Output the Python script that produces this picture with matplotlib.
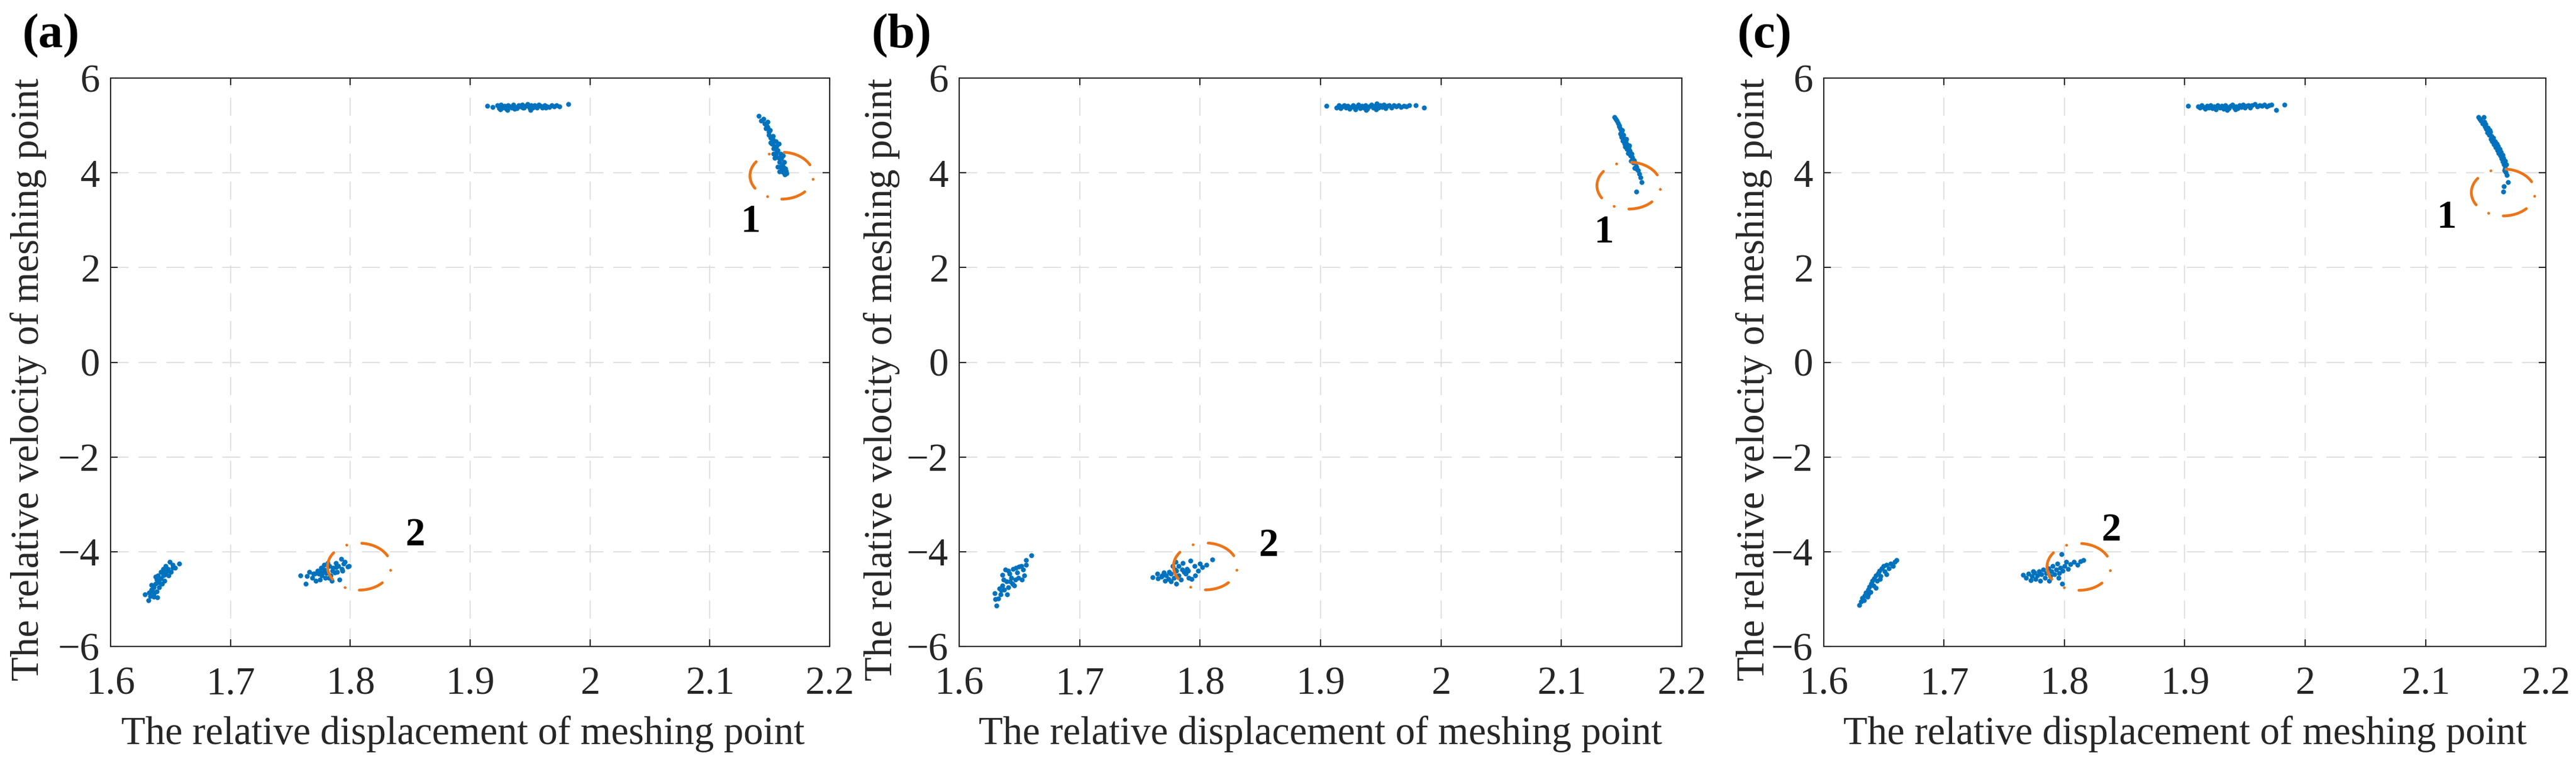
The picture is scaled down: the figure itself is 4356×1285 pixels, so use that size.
import matplotlib
matplotlib.use('Agg')
import matplotlib.pyplot as plt
from matplotlib.patches import Ellipse

# ---------------- data ----------------
x_ticks = [1.6, 1.7, 1.8, 1.9, 2.0, 2.1, 2.2]
x_ticklabels = ['1.6', '1.7', '1.8', '1.9', '2', '2.1', '2.2']
y_ticks = [-6, -4, -2, 0, 2, 4, 6]
y_ticklabels = ['\u22126', '\u22124', '\u22122', '0', '2', '4', '6']
panel_letters = ['(a)', '(b)', '(c)']
xlabel_text = 'The relative displacement of meshing point'
ylabel_text = 'The relative velocity of meshing point'

# panel (a) clusters (displacement, velocity)
pa_left = [(1.6285,-4.90),(1.6318,-5.026),(1.6329,-4.942),(1.6351,-4.839),(1.6362,-4.755),(1.6340,-4.797),
           (1.6373,-4.672),(1.6384,-4.589),(1.6395,-4.505),(1.6417,-4.423),(1.6439,-4.360),(1.6461,-4.298),
           (1.6494,-4.214),(1.6516,-4.277),(1.6571,-4.256),(1.6538,-4.339),(1.6505,-4.423),(1.6483,-4.505),
           (1.6450,-4.610),(1.6428,-4.672),(1.6406,-4.755),(1.6384,-4.839),(1.6388,-4.964),(1.6362,-4.889),
           (1.6406,-4.651),(1.6439,-4.505),(1.6472,-4.402),(1.6516,-4.339),(1.6373,-4.527),(1.6450,-4.443),
           (1.6340,-4.70),(1.6420,-4.56),(1.6460,-4.48),(1.6400,-4.62),(1.6480,-4.36),(1.6360,-4.95),(1.6320,-4.86)]
pa_mid = [(1.7582,-4.505),(1.7626,-4.672),(1.7659,-4.423),(1.7681,-4.548),(1.7714,-4.610),(1.7736,-4.464),
          (1.7758,-4.339),(1.7780,-4.277),(1.7802,-4.423),(1.7835,-4.505),(1.7857,-4.339),(1.7879,-4.235),
          (1.7901,-4.298),(1.7923,-4.152),(1.7945,-4.256),(1.7978,-4.318),(1.7989,-4.298),(1.7912,-4.589),
          (1.7868,-4.443),(1.7824,-4.298),(1.7791,-4.548),(1.7747,-4.589),(1.7692,-4.464),(1.7934,-4.402),
          (1.7956,-4.214),(1.7890,-4.423),(1.7846,-4.610),(1.7769,-4.443),(1.7725,-4.402),(1.7813,-4.235),
          (1.7760,-4.50),(1.7800,-4.45),(1.7850,-4.40),(1.7700,-4.47),(1.7640,-4.52),(1.7880,-4.33),
          (1.7930,-4.37),(1.7820,-4.55),(1.7740,-4.42),(1.7780,-4.38)]
pa_top = [(1.9143,5.41),(1.9189,5.39),(1.9225,5.42),(1.9240,5.36),(1.9255,5.44),(1.9270,5.38),(1.9285,5.41),
          (1.9300,5.35),(1.9315,5.43),(1.9330,5.40),(1.9345,5.37),(1.9360,5.44),(1.9375,5.39),(1.9390,5.36),
          (1.9405,5.42),(1.9420,5.40),(1.9435,5.44),(1.9450,5.38),(1.9465,5.41),(1.9480,5.45),(1.9495,5.39),
          (1.9510,5.42),(1.9525,5.37),(1.9540,5.43),(1.9555,5.40),(1.9570,5.44),(1.9585,5.41),(1.9600,5.38),
          (1.9620,5.42),(1.9640,5.40),(1.9660,5.39),(1.9680,5.43),(1.9700,5.40),(1.9720,5.42),(1.9745,5.40),
          (1.9820,5.45),(1.9250,5.34),(1.9310,5.36),(1.9370,5.35),(1.9440,5.37),(1.9500,5.36),(1.9560,5.38),
          (1.9630,5.37),(1.9312,5.32),(1.9502,5.33)]
pa_right = [(2.1409,5.20),(2.1447,5.14),(2.1456,5.035),(2.1480,5.07),(2.1467,4.935),(2.1484,4.96),(2.1492,4.86),
            (2.1500,4.90),(2.1508,4.735),(2.1525,4.78),(2.1508,4.64),(2.1516,4.61),(2.1550,4.67),(2.1533,4.52),
            (2.1574,4.61),(2.1557,4.57),(2.1557,4.44),(2.1533,4.40),(2.1590,4.40),(2.1574,4.32),(2.1541,4.32),
            (2.1610,4.36),(2.1582,4.23),(2.1620,4.23),(2.1590,4.13),(2.1565,4.13),(2.1603,4.17),(2.1598,4.07),
            (2.1628,4.09),(2.1582,4.03),(2.1610,4.01),(2.1623,3.96),(2.1640,3.99),
            (2.1430,5.10),(2.1470,5.00),(2.1490,4.80),(2.1525,4.70),(2.1540,4.55),(2.1565,4.48),(2.1595,4.30),
            (2.1615,4.12),(2.1635,4.04),(2.1520,4.62),(2.1550,4.38)]

# panel (b) clusters
pb_left = [(1.6309,-5.142),(1.6298,-5.005),(1.6293,-4.872),(1.6326,-4.985),(1.6342,-4.901),(1.6334,-4.776),
           (1.6358,-4.714),(1.6375,-4.797),(1.6350,-4.818),(1.6399,-4.901),(1.6408,-4.755),(1.6391,-4.630),
           (1.6367,-4.589),(1.6358,-4.485),(1.6383,-4.373),(1.6416,-4.464),(1.6432,-4.548),(1.6440,-4.672),
           (1.6457,-4.714),(1.6465,-4.589),(1.6448,-4.360),(1.6481,-4.443),(1.6497,-4.318),(1.6514,-4.298),
           (1.6530,-4.381),(1.6539,-4.505),(1.6522,-4.589),(1.6555,-4.277),(1.6555,-4.173),(1.6599,-4.081),
           (1.6489,-4.548),(1.6424,-4.630),(1.6473,-4.339),(1.6408,-4.402)]
pb_mid = [(1.7607,-4.539),(1.7643,-4.464),(1.7651,-4.568),(1.7684,-4.505),(1.7709,-4.610),(1.7700,-4.443),
          (1.7742,-4.423),(1.7758,-4.630),(1.7774,-4.298),(1.7799,-4.214),(1.7803,-4.672),(1.7823,-4.505),
          (1.7856,-4.235),(1.7864,-4.423),(1.7905,-4.548),(1.7921,-4.193),(1.7889,-4.360),(1.7791,-4.381),
          (1.7840,-4.589),(1.7954,-4.30),(1.7985,-4.40),(1.8020,-4.33),(1.8050,-4.28),(1.8100,-4.16),
          (1.7960,-4.50),(1.7930,-4.58),(1.8000,-4.25),(1.7720,-4.50),(1.7760,-4.47),(1.7800,-4.40),
          (1.7850,-4.38),(1.7880,-4.46),(1.7820,-4.30),(1.7900,-4.40),(1.7780,-4.55),(1.7680,-4.53),
          (1.7740,-4.58)]
pb_top = [(1.9050,5.41),(1.9133,5.38),(1.9150,5.42),(1.9165,5.36),(1.9180,5.40),(1.9195,5.43),(1.9210,5.37),
          (1.9225,5.41),(1.9240,5.35),(1.9255,5.39),(1.9270,5.42),(1.9285,5.37),(1.9300,5.40),(1.9315,5.44),
          (1.9330,5.36),(1.9345,5.41),(1.9360,5.38),(1.9375,5.43),(1.9390,5.35),(1.9405,5.40),(1.9420,5.44),
          (1.9435,5.38),(1.9450,5.41),(1.9465,5.46),(1.9480,5.37),(1.9495,5.42),(1.9510,5.39),(1.9525,5.44),
          (1.9540,5.36),(1.9555,5.41),(1.9570,5.43),(1.9590,5.38),(1.9610,5.42),(1.9630,5.40),(1.9650,5.43),
          (1.9670,5.39),(1.9690,5.41),(1.9710,5.40),(1.9736,5.42),(1.9790,5.43),(1.9860,5.37),(1.9380,5.33),
          (1.9460,5.34),(1.9290,5.34)]
pb_right = [(2.1442,5.18),(2.1460,5.10),(2.1470,5.05),(2.1478,4.98),(2.1490,4.93),(2.1500,4.87),(2.1490,4.82),
            (2.1515,4.80),(2.1520,4.73),(2.1510,4.68),(2.1535,4.66),(2.1545,4.60),(2.1530,4.55),(2.1560,4.53),
            (2.1570,4.47),(2.1555,4.42),(2.1585,4.40),(2.1590,4.33),(2.1600,4.27),(2.1580,4.25),(2.1615,4.20),
            (2.1620,4.13),(2.1605,4.10),(2.1635,4.05),(2.1645,3.98),(2.1655,3.90),(2.1666,3.80),(2.1620,3.60),
            (2.1500,4.75),(2.1550,4.50),
            (2.1450,5.14),(2.1480,5.00),(2.1505,4.90),(2.1500,4.78),(2.1525,4.62),(2.1545,4.50),(2.1575,4.36),
            (2.1598,4.22),(2.1625,4.08),(2.1540,4.72),(2.1565,4.58)]

# panel (c) clusters
pc_left = [(1.6297,-5.13),(1.6310,-5.05),(1.6320,-4.98),(1.6335,-5.02),(1.6340,-4.92),(1.6350,-4.86),
           (1.6362,-4.95),(1.6370,-4.80),(1.6380,-4.74),(1.6390,-4.85),(1.6395,-4.68),(1.6405,-4.62),
           (1.6415,-4.72),(1.6420,-4.56),(1.6432,-4.50),(1.6440,-4.62),(1.6450,-4.45),(1.6460,-4.40),
           (1.6470,-4.52),(1.6480,-4.35),(1.6495,-4.30),(1.6505,-4.42),(1.6520,-4.28),(1.6540,-4.35),
           (1.6555,-4.25),(1.6575,-4.30),(1.6590,-4.22),(1.6604,-4.18),(1.6370,-4.90),(1.6430,-4.76),
           (1.6465,-4.58),(1.6520,-4.48)]
pc_mid = [(1.7655,-4.49),(1.7680,-4.55),(1.7700,-4.47),(1.7720,-4.60),(1.7730,-4.52),(1.7750,-4.44),
          (1.7760,-4.58),(1.7775,-4.50),(1.7790,-4.42),(1.7800,-4.62),(1.7810,-4.48),(1.7825,-4.38),
          (1.7840,-4.55),(1.7850,-4.45),(1.7865,-4.35),(1.7880,-4.52),(1.7890,-4.42),(1.7900,-4.30),
          (1.7915,-4.48),(1.7930,-4.38),(1.7940,-4.25),(1.7955,-4.45),(1.7965,-4.34),(1.7975,-4.05),
          (1.7985,-4.40),(1.8000,-4.30),(1.8015,-4.22),(1.8030,-4.36),(1.8050,-4.26),(1.8080,-4.22),
          (1.8110,-4.28),(1.8135,-4.20),(1.8158,-4.18),(1.7980,-4.68),(1.7870,-4.62),(1.7740,-4.42),
          (1.7950,-4.55)]
pc_top = [(1.9027,5.41),(1.9110,5.40),(1.9125,5.37),(1.9140,5.42),(1.9155,5.39),(1.9170,5.35),(1.9185,5.41),
          (1.9200,5.38),(1.9215,5.43),(1.9230,5.36),(1.9245,5.40),(1.9260,5.34),(1.9275,5.42),(1.9290,5.38),
          (1.9305,5.41),(1.9320,5.35),(1.9335,5.43),(1.9350,5.39),(1.9365,5.36),(1.9380,5.41),(1.9395,5.44),
          (1.9410,5.38),(1.9425,5.40),(1.9440,5.36),(1.9455,5.42),(1.9470,5.39),(1.9485,5.44),(1.9500,5.37),
          (1.9515,5.41),(1.9530,5.43),(1.9545,5.38),(1.9560,5.42),(1.9580,5.45),(1.9600,5.40),(1.9620,5.43),
          (1.9640,5.41),(1.9660,5.44),(1.9680,5.40),(1.9700,5.42),(1.9720,5.44),(1.9757,5.33),(1.9826,5.44),
          (1.9350,5.33),(1.9420,5.34)]
pc_right = [(2.1439,5.18),(2.1485,5.18),(2.1460,5.10),(2.1475,5.04),(2.1490,5.08),(2.1495,4.98),(2.1505,4.92),
            (2.1520,4.95),(2.1515,4.85),(2.1530,4.80),(2.1540,4.86),(2.1545,4.72),(2.1555,4.66),(2.1565,4.74),
            (2.1570,4.60),(2.1580,4.54),(2.1590,4.62),(2.1595,4.48),(2.1605,4.42),(2.1615,4.50),(2.1620,4.36),
            (2.1630,4.30),(2.1640,4.38),(2.1642,4.24),(2.1650,4.18),(2.1660,4.25),(2.1662,4.10),(2.1668,4.02),
            (2.1675,3.95),(2.1686,3.80),(2.1645,3.60),(2.1650,3.72),
            (2.1450,5.14),(2.1500,5.02),(2.1525,4.88),(2.1550,4.78),(2.1575,4.66),(2.1600,4.56),(2.1625,4.44),
            (2.1648,4.32),(2.1670,4.18),(2.1655,4.05),(2.1535,4.90)]

panels_data = [
    [pa_left, pa_mid, pa_top, pa_right],
    [pb_left, pb_mid, pb_top, pb_right],
    [pc_left, pc_mid, pc_top, pc_right],
]

# annotations (orange dash-dot ellipses and bold numbers)
ellipse1_centers = [(2.160, 3.94), (2.156, 3.73), (2.1646, 3.585)]
ellipse2_centers = [(1.8075, -4.315), (1.8044, -4.31), (1.812, -4.32)]
label1_pos = [(2.134, 2.75), (2.1355, 2.53), (2.1177, 2.835)]
label2_pos = [(1.854, -3.87), (1.8566, -4.09), (1.8387, -3.77)]

# ---------------- style / layout ----------------
plt.rcParams['font.family'] = ['Liberation Serif', 'DejaVu Serif']
plt.rcParams['lines.scale_dashes'] = False

W, H = 4356, 1285
fig = plt.figure(figsize=(W / 100, H / 100), dpi=100)
fig.patch.set_facecolor('white')

axes_px = [(187, 1403), (1622, 2844), (3084, 4305)]
ax_top, ax_bot = 132, 1093
ylabel_x = [-0.0888, -0.0818, -0.0713]
xlabel_cx = [0.49, 0.5, 0.5]
letter_x_px = [37, 1473, 2937]

BLUE = '#0072BD'
ORANGE = '#EC7418'
AXC = '#262626'

for i in range(3):
    l, r = axes_px[i]
    ax = fig.add_axes([l / W, 1 - ax_bot / H, (r - l) / W, (ax_bot - ax_top) / H])
    for cl in panels_data[i]:
        xs = [p[0] for p in cl]
        ys = [p[1] for p in cl]
        ax.plot(xs, ys, 'o', ms=6.0, color=BLUE, mec='none', zorder=3)
    for c in (ellipse1_centers[i], ellipse2_centers[i]):
        e = Ellipse(c, width=0.053, height=0.99, fill=False, ec=ORANGE, lw=3.4,
                    ls=(6, (36, 18.5, 0.1, 18.5)), capstyle='round', zorder=4)
        ax.add_patch(e)
    ax.text(*label1_pos[i], '1', fontsize=48, fontweight='bold', color='black',
            ha='center', va='baseline', zorder=5)
    ax.text(*label2_pos[i], '2', fontsize=48, fontweight='bold', color='black',
            ha='center', va='baseline', zorder=5)

    ax.set_xlim(1.6, 2.2)
    ax.set_ylim(-6, 6)
    ax.set_xticks(x_ticks)
    ax.set_xticklabels(x_ticklabels)
    ax.set_yticks(y_ticks)
    ax.set_yticklabels(y_ticklabels)
    ax.set_axisbelow(True)
    ax.grid(True, color='#dadada', lw=1.2, ls=(0, (22, 12)))
    ax.tick_params(axis='both', direction='in', length=8.5, width=1.5, top=True, right=True,
                   colors=AXC, labelsize=48)
    ax.tick_params(axis='x', pad=24)
    ax.tick_params(axis='y', pad=13)
    for s in ax.spines.values():
        s.set_color(AXC)
        s.set_linewidth(1.5)
    ax.set_xlabel(xlabel_text, fontsize=48, color=AXC)
    ax.set_ylabel(ylabel_text, fontsize=48, color=AXC)
    ax.xaxis.set_label_coords(xlabel_cx[i], -0.1217)
    ax.yaxis.set_label_coords(ylabel_x[i], 0.47)

    fig.text(letter_x_px[i] / W, 1 - 80 / H, panel_letters[i], fontsize=60,
             fontweight='bold', color='black', ha='left', va='baseline')

fig.savefig('out.png', dpi=100)
